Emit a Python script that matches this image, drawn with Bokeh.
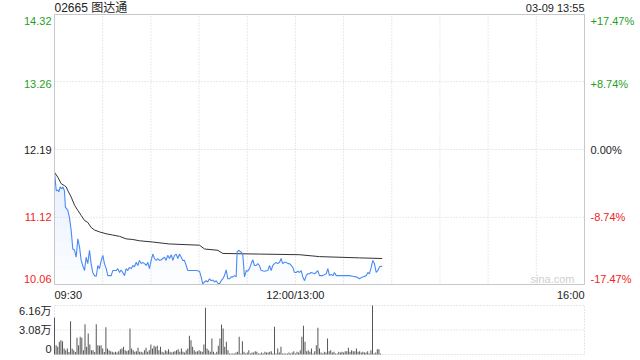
import numpy as np
from bokeh.plotting import figure
from bokeh.models import Range1d, Label
from bokeh.embed import file_html
from bokeh.resources import INLINE

# ---------------- data ----------------
stock_code = "02665"
stock_name = "图达通"
stamp = "03-09 13:55"

price_ticks = [14.32, 13.26, 12.19, 11.12, 10.06]
pct_labels = ["+17.47%", "+8.74%", "0.00%", "-8.74%", "-17.47%"]
time_ticks = [0, 150, 330]
time_labels = ["09:30", "12:00/13:00", "16:00"]
grid_minutes = [30, 60, 90, 120, 150, 180, 210, 240, 270, 300]
vol_ticks = [6.16, 3.08, 0]
vol_labels = ["6.16万", "3.08万", "0"]

# minutes since 09:30 (lunch break removed) and last price
price_t = [0.0, 1.1, 2.1, 2.7, 3.5, 4.5, 5.2, 6.2, 6.8, 8.3,
           9.3, 10.4, 11.4, 12.5, 13.5, 14.5, 15.6, 16.6, 17.6, 18.7,
           19.7, 20.7, 21.8, 22.8, 23.8, 24.9, 26.0, 27.0, 28.0, 29.1,
           30.1, 31.1, 32.2, 33.2, 35.3, 36.3, 38.4, 39.4, 40.5, 41.5,
           42.5, 43.6, 44.6, 45.6, 46.7, 47.8, 48.8, 49.8, 50.9, 51.9,
           52.9, 54.0, 55.0, 56.0, 57.1, 58.1, 59.1, 60.2, 61.2, 62.3,
           63.3, 64.3, 65.4, 66.4, 68.5, 69.5, 70.5, 71.6, 72.7, 73.7,
           74.7, 75.8, 76.8, 77.8, 78.9, 79.9, 80.9, 82.0, 83.0, 85.1,
           88.2, 90.3, 91.3, 92.3, 93.4, 94.4, 95.4, 96.5, 97.5, 98.6,
           99.6, 100.7, 101.7, 102.7, 103.8, 104.8, 105.8, 106.9, 107.9, 109.0,
           110.0, 111.0, 112.1, 113.1, 113.7, 114.7, 116.2, 117.2, 118.3, 119.4,
           120.3, 121.4, 122.5, 123.5, 124.5, 125.6, 126.6, 127.6, 128.7, 130.7,
           132.8, 133.9, 134.9, 135.9, 137.0, 138.0, 139.0, 140.1, 141.1, 142.1,
           143.2, 144.3, 145.3, 146.3, 147.4, 148.4, 149.4, 150.5, 151.5, 152.5,
           153.6, 154.6, 155.7, 156.7, 157.7, 158.8, 159.8, 160.8, 161.9, 162.9,
           163.9, 165.0, 167.0, 169.2, 170.2, 171.2, 172.3, 173.3, 174.3, 175.4,
           177.4, 179.5, 181.6, 183.7, 185.7, 187.8, 188.8, 189.9, 191.9, 194.1,
           195.1, 196.1, 197.2, 198.2, 199.2, 200.3, 201.3, 202.4, 204.0]
price_v = [11.83, 11.54, 11.55, 11.52, 11.60, 11.57, 11.60, 11.54, 11.28, 11.23,
           11.12, 10.91, 10.62, 10.60, 10.49, 10.78, 10.65, 10.44, 10.36, 10.28,
           10.49, 10.39, 10.60, 10.39, 10.25, 10.20, 10.19, 10.36, 10.31, 10.44,
           10.52, 10.39, 10.31, 10.20, 10.20, 10.28, 10.28, 10.31, 10.25, 10.29,
           10.25, 10.20, 10.31, 10.28, 10.33, 10.31, 10.36, 10.34, 10.41, 10.36,
           10.44, 10.39, 10.41, 10.39, 10.36, 10.41, 10.31, 10.44, 10.54, 10.47,
           10.44, 10.47, 10.44, 10.45, 10.49, 10.44, 10.52, 10.47, 10.53, 10.44,
           10.52, 10.54, 10.47, 10.54, 10.49, 10.44, 10.44, 10.36, 10.28, 10.28,
           10.28, 10.27, 10.18, 10.07, 10.10, 10.12, 10.10, 10.15, 10.12, 10.13,
           10.10, 10.12, 10.08, 10.07, 10.12, 10.15, 10.20, 10.29, 10.15, 10.15,
           10.18, 10.18, 10.20, 10.18, 10.57, 10.60, 10.57, 10.54, 10.18, 10.28,
           10.27, 10.31, 10.39, 10.45, 10.36, 10.36, 10.39, 10.36, 10.28, 10.27,
           10.28, 10.36, 10.28, 10.36, 10.39, 10.41, 10.39, 10.41, 10.47, 10.39,
           10.41, 10.41, 10.39, 10.39, 10.36, 10.33, 10.25, 10.25, 10.27, 10.25,
           10.28, 10.18, 10.12, 10.20, 10.23, 10.23, 10.25, 10.24, 10.23, 10.25,
           10.28, 10.20, 10.20, 10.23, 10.31, 10.20, 10.22, 10.20, 10.25, 10.20,
           10.20, 10.20, 10.20, 10.20, 10.19, 10.18, 10.17, 10.15, 10.18, 10.20,
           10.25, 10.23, 10.33, 10.44, 10.39, 10.25, 10.28, 10.34, 10.35]

# average price line
avg_t = [0.0, 2.1, 4.2, 6.2, 7.3, 8.3, 10.4, 12.5, 14.5, 16.6,
         18.7, 20.7, 22.8, 24.9, 28.0, 32.2, 36.3, 40.5, 44.6, 48.8,
         52.9, 61.2, 71.2, 90.3, 93.4, 101.7, 104.8, 127.6, 152.5, 165.0,
         189.9, 204.0]
avg_v = [11.83, 11.75, 11.65, 11.62, 11.60, 11.54, 11.44, 11.31, 11.23, 11.15,
         11.07, 11.04, 10.96, 10.92, 10.89, 10.86, 10.84, 10.82, 10.78, 10.77,
         10.75, 10.73, 10.70, 10.68, 10.62, 10.60, 10.55, 10.54, 10.53, 10.50,
         10.48, 10.47]

# volume per minute (万股)
vol_v = [4.61, 1.17, 0.96, 1.59, 1.80, 1.68, 0.75, 0.54, 0.75, 0.30,
         4.19, 0.75, 0.54, 0.30, 2.10, 1.17, 2.22, 2.10, 0.54, 3.81,
         0.96, 2.64, 1.26, 0.54, 0.54, 0.30, 3.81, 1.17, 1.09, 1.17,
         0.75, 0.30, 3.44, 0.75, 0.54, 0.42, 0.34, 0.25, 0.34, 0.25,
         0.42, 0.67, 0.75, 0.96, 0.54, 0.42, 0.54, 3.27, 0.75, 0.54,
         0.34, 0.42, 0.84, 0.34, 0.34, 0.25, 0.54, 0.84, 0.34, 0.54,
         1.26, 0.75, 1.09, 0.96, 1.09, 0.54, 0.96, 0.34, 0.25, 0.54,
         0.42, 0.67, 0.34, 0.25, 0.34, 0.42, 0.54, 0.67, 0.34, 0.75,
         0.34, 0.25, 0.54, 0.75, 2.35, 1.80, 0.96, 0.54, 0.34, 0.42,
         0.54, 0.42, 0.34, 1.26, 5.87, 0.75, 0.54, 0.34,
         2.01, 0.34, 0.13, 0.34, 1.09, 2.01, 3.77, 3.27, 0.96, 1.59,
         0.54, 0.13, 0.13, 0.13, 0.13, 0.25, 0.34, 2.22, 0.13, 1.68,
         0.34, 0.13, 0.25, 0.54, 0.13, 0.25, 0.25, 0.42, 0.34, 0.13,
         0.13, 0.25, 0.13, 0.34, 0.25, 0.25, 0.34, 0.42, 0.13, 3.48,
         0.13, 0.75, 0.25, 0.96, 0.13, 0.13, 0.13, 0.13, 0.25, 0.13,
         0.25, 0.42, 0.13, 0.34, 0.25, 0.54, 2.22, 3.60, 1.59, 0.42,
         0.54, 0.34, 0.75, 0.13, 0.42, 1.17, 3.35, 0.75, 0.25, 0.13,
         0.34, 0.25, 2.01, 0.42, 0.54, 0.25, 0.34, 0.13, 0.13, 0.34,
         0.25, 0.34, 0.25, 0.42, 0.42, 0.84, 0.34, 0.54, 0.42, 0.42,
         0.75, 0.34, 0.42, 0.25, 0.34, 0.25, 0.25, 0.42, 0.13, 0.54,
         6.16, 0.13, 0.25, 0.67, 0.67, 0.13]
vol_t = list(range(len(vol_v)))

# ---------------- layout (pixels) ----------------
W, H = 640, 360
PL, PR = 54, 584          # plot left/right edge
PT, PB = 14, 284          # price panel top/bottom
VT, VB = 305, 354         # volume panel top/bottom

X0, X1 = 0, 330
Y0, Y1 = price_ticks[-1], price_ticks[0]
VMAX = vol_ticks[0]

ppx = (PR - PL) / (X1 - X0)
ppy = (PB - PT) / (Y1 - Y0)
vpy = (VB - VT) / VMAX

FONT = "Liberation Sans, Noto Sans CJK SC"
GREEN = "#1f9f1f"
RED = "#f02424"
DARK = "#222222"
GRID = "#d2d2d2"
BLUE = "#4a8af4"
label_colors = [GREEN, GREEN, DARK, RED, RED]
label_yoff = [-6, -2, 0, 0, 6]

p = figure(width=W, height=H,
           x_range=Range1d(X0 - PL / ppx, X1 + (W - PR) / ppx),
           y_range=Range1d(Y0 - (H - PB) / ppy, Y1 + PT / ppy),
           output_backend="svg", toolbar_location=None,
           x_axis_location=None, y_axis_location=None,
           min_border=0)
p.extra_y_ranges = {"vol": Range1d(0 - (H - VB) / vpy, VMAX + VT / vpy)}
p.grid.visible = False
p.outline_line_color = None
p.background_fill_color = "white"
p.border_fill_color = "white"

# price grid
p.segment(x0=grid_minutes, y0=Y0, x1=grid_minutes, y1=Y1,
          line_color=GRID, line_dash="1 2", line_width=1)
p.segment(x0=X0, y0=price_ticks[1:4], x1=X1, y1=price_ticks[1:4],
          line_color=GRID, line_dash="1 2", line_width=1)

# gradient-like fill under the price line
pv = np.array(price_v)
for lvl in np.linspace(Y0, max(price_v), 9)[:-1]:
    p.varea(x=price_t, y1=lvl, y2=np.maximum(pv, lvl), fill_color=BLUE, fill_alpha=0.016)

p.line(avg_t, avg_v, line_color="#333333", line_width=1)
p.line(price_t, price_v, line_color=BLUE, line_width=1.1)

# price frame
p.quad(left=X0, right=X1, bottom=Y0, top=Y1, fill_color=None,
       line_color="#c8c8c8", line_width=1)

# volume panel
p.segment(x0=X0, y0=vol_ticks[1], x1=X1, y1=vol_ticks[1], y_range_name="vol",
          line_color=GRID, line_dash="1 2", line_width=1)
p.quad(left=X0, right=X1, bottom=0, top=VMAX, y_range_name="vol", fill_color=None,
       line_color="#cccccc", line_dash="1 2", line_width=1)
p.vbar(x=vol_t, top=vol_v, width=0.62, bottom=0, y_range_name="vol",
       fill_color="#555555", line_color=None)

# texts
for v, c, yo in zip(price_ticks, label_colors, label_yoff):
    p.add_layout(Label(x=X0, y=v, text=f"{v:.2f}", text_align="right", text_baseline="middle",
                       x_offset=-3, y_offset=yo, text_font=FONT, text_font_size="11px",
                       text_color=c))
for v, t, c, yo in zip(price_ticks, pct_labels, label_colors, label_yoff):
    p.add_layout(Label(x=X1, y=v, text=t, text_align="left", text_baseline="middle",
                       x_offset=6, y_offset=yo, text_font=FONT, text_font_size="11px",
                       text_color=c))
aligns = ["left", "center", "right"]
for t, s, a in zip(time_ticks, time_labels, aligns):
    p.add_layout(Label(x=t, y=Y0, text=s, text_align=a, text_baseline="middle",
                       y_offset=-10, text_font=FONT, text_font_size="11px", text_color=DARK))
p.add_layout(Label(x=X0, y=Y1, text=f"{stock_code} {stock_name}", text_align="left",
                   text_baseline="middle", y_offset=7, text_font=FONT,
                   text_font_size="12px", text_color=DARK))
p.add_layout(Label(x=X1, y=Y1, text=stamp, text_align="right", text_baseline="middle",
                   y_offset=7, text_font=FONT, text_font_size="11px", text_color=DARK))
p.add_layout(Label(x=X1, y=Y0, text="sina.com", text_align="right", text_baseline="middle",
                   x_offset=-10, y_offset=6, text_font=FONT, text_font_size="11px",
                   text_color="#d0d0d0"))
vol_yoff = [-5, 0, 6]
for v, s, yo in zip(vol_ticks, vol_labels, vol_yoff):
    p.add_layout(Label(x=X0, y=v, y_range_name="vol", text=s, text_align="right",
                       text_baseline="middle", x_offset=-3, y_offset=yo, text_font=FONT,
                       text_font_size="11px", text_color=DARK))

open("out.html", "w").write(file_html(p, INLINE))
